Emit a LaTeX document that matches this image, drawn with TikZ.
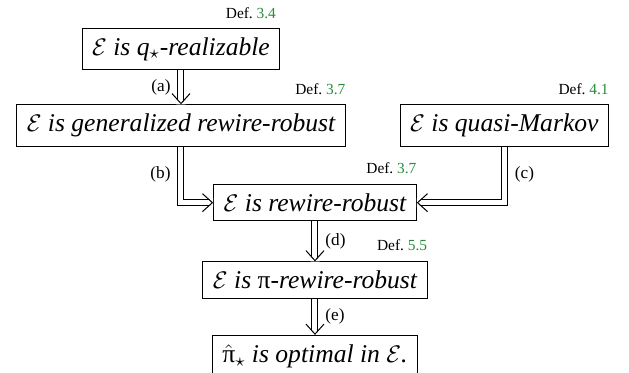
\documentclass[tikz,border=0pt]{standalone}
\usepackage{fontspec}
\setmainfont{Liberation Serif}
\usepackage{amsmath}
\usetikzlibrary{arrows.meta,positioning,decorations.markings}
\definecolor{refgreen}{RGB}{40,140,60}

\begin{document}
\begin{tikzpicture}[x=0.5pt, y=-0.5pt,
    node distance=17pt and 27pt,
    claim/.style={draw, line width=0.5pt, inner xsep=5pt, inner ysep=4.6pt,
                  font=\fontsize{12.8}{15}\selectfont\itshape},
    defref/.style={inner sep=0pt, font=\fontsize{7.7}{9}\selectfont},
    tag/.style={inner xsep=5pt, inner ysep=1pt, font=\fontsize{8.6}{10}\selectfont},
    imp/.style={double, double distance=2.5pt, line width=0.5pt,
        postaction={decorate, decoration={markings, mark=at position 1 with {
            \fill[white] (0,0) -- (-2.6pt,2.35pt) -- (0,2.35pt) -- cycle
                         (0,0) -- (-2.6pt,-2.35pt) -- (0,-2.35pt) -- cycle;
            \pgfsetinnerlinewidth{0pt}
            \arrow{Straight Barb[length=5pt, width=9pt, line width=0.5pt]};
        }}}},
]
    \useasboundingbox (0,0) rectangle (629,373);

    \node[claim] (real) at (181,49) {$\mathcal{E}$ is \textit{q}$_\star$-realizable};
    \node[claim, below=17pt of real] (genrob) {$\mathcal{E}$ is generalized rewire-robust};
    \node[claim, right=27pt of genrob] (qmark) {$\mathcal{E}$ is quasi-Markov};
    \node[claim, below=18.5pt of genrob, xshift=67pt] (rob) {$\mathcal{E}$ is rewire-robust};
    \node[claim, below=20pt of rob] (pirob) {$\mathcal{E}$ is {\upshape π}-rewire-robust};
    \node[claim, below=18pt of pirob] (opt) {$\hat{\text{\upshape π}}_\star$ is optimal in $\mathcal{E}$.};

    % definition references
    \node[defref, above left=4.5pt and 2pt of real.north east] {Def.~\textcolor{refgreen}{3.4}};
    \node[defref, above left=4.5pt and 0pt of genrob.north east] {Def.~\textcolor{refgreen}{3.7}};
    \node[defref, above left=4.5pt and 0pt of qmark.north east] {Def.~\textcolor{refgreen}{4.1}};
    \node[defref, above left=5pt and 0pt of rob.north east] {Def.~\textcolor{refgreen}{3.7}};
    \node[defref, above left=5pt and 0pt of pirob.north east] {Def.~\textcolor{refgreen}{5.5}};

    % implications
    \draw[imp] (real) -- (genrob) node[midway, left, tag] {(a)};
    \draw[imp] (genrob.south) |- (rob.west) node[pos=0.25, left, tag] {(b)};
    \draw[imp] (qmark.south) |- (rob.east) node[pos=0.25, right, tag] {(c)};
    \draw[imp] (rob) -- (pirob) node[midway, right, tag] {(d)};
    \draw[imp] (pirob) -- (opt) node[midway, right, tag] {(e)};
\end{tikzpicture}
\end{document}
